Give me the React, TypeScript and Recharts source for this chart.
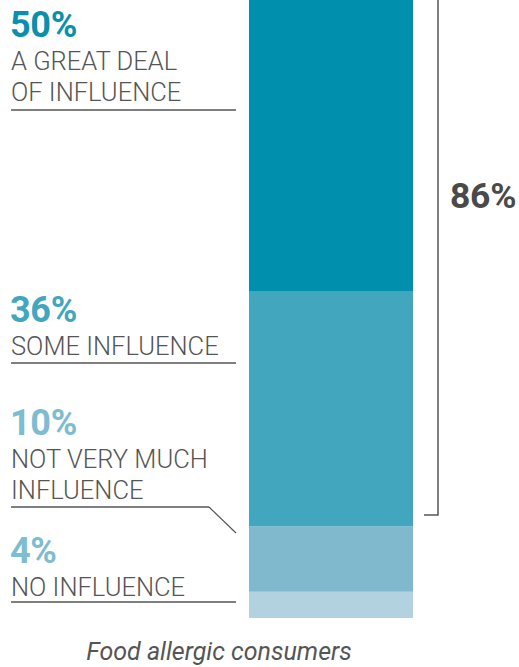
import { BarChart, Bar, XAxis, YAxis } from "recharts"

const group = "Food allergic consumers"
const keys = ["none", "notMuch", "some", "great"]
const values = [4, 10, 36, 50]
const percentLabels = ["4%", "10%", "36%", "50%"]
const captions = [["NO INFLUENCE"], ["NOT VERY MUCH", "INFLUENCE"], ["SOME INFLUENCE"], ["A GREAT DEAL", "OF INFLUENCE"]]
const totalLabel = "86%"

const barColors = ["#b3d2df", "#80b9ce", "#43a6bf", "#0090ae"]
const textColors = ["#7dbcd1", "#7dbcd1", "#42a6bf", "#0a90ac"]

const row: Record<string, string | number> = { group }
keys.forEach((k, i) => {
  row[k] = values[i]
})
const rows = [row]

// label block positions (baseline of the big percentage)
const blockTop = [563, 435, 322, 37]
const rules = [602, 507, 363, 110]

const ink = "#555555"
const font = "Roboto, 'Noto Sans', sans-serif"

export default function App() {
  return (
    <div style={{ position: "absolute", left: 0, top: 0, width: 519, height: 667, overflow: "hidden", background: "#fff" }}>
      <div style={{ position: "absolute", left: 0, top: -36 }}>
        <BarChart width={519} height={654} data={rows} margin={{ top: 0, right: 0, bottom: 0, left: 143 }} barCategoryGap={0}>
          <XAxis dataKey="group" hide />
          <YAxis hide domain={[0, 100]} />
          {keys.map((k, i) => (
            <Bar key={k} dataKey={k} stackId="a" fill={barColors[i]} barSize={164} isAnimationActive={false} />
          ))}
        </BarChart>
      </div>
      <svg width={519} height={667} style={{ position: "absolute", left: 0, top: 0 }} fontFamily={font}>
        {keys.map((k, i) => (
          <g key={k}>
            <text x={10} y={blockTop[i]} fontSize={36} fontWeight={700} fill={textColors[i]} letterSpacing={-0.3}>
              {percentLabels[i]}
            </text>
            {captions[i].map((line, j) => (
              <text key={line} x={11} y={blockTop[i] + 33 + j * 31} fontSize={25.5} fontWeight={300} fill={ink}>
                {line}
              </text>
            ))}
            <line x1={11} x2={i === 1 ? 209 : 236} y1={rules[i]} y2={rules[i]} stroke={ink} strokeWidth={1.5} />
          </g>
        ))}
        <line x1={209} y1={rules[1]} x2={236} y2={533} stroke={ink} strokeWidth={1.2} />
        <polyline points="438,0 438,515 424,515" fill="none" stroke={ink} strokeWidth={1.5} />
        <text x={450} y={208} fontSize={35.5} fontWeight={700} fill="#4a4a4a" letterSpacing={-0.3}>
          {totalLabel}
        </text>
        <text x={219} y={660} fontSize={25} fontStyle="italic" fill={ink} textAnchor="middle">
          {group}
        </text>
      </svg>
    </div>
  )
}
